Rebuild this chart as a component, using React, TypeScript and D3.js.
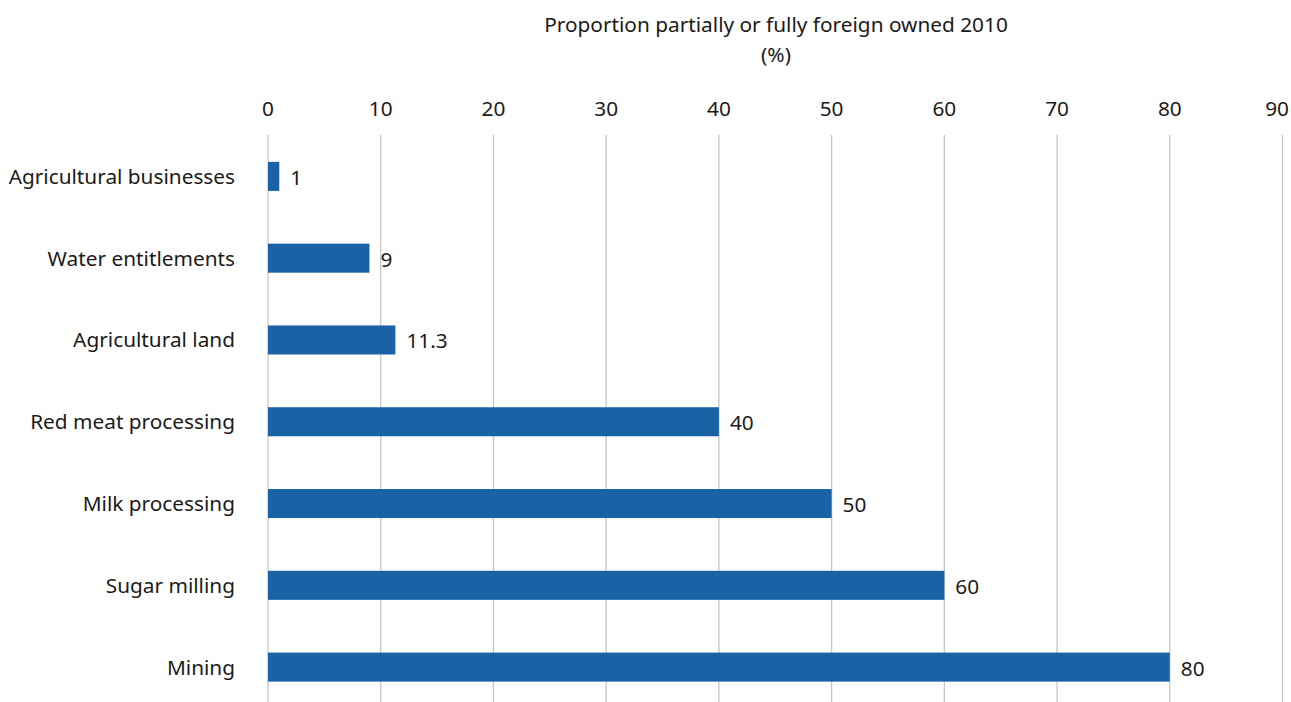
import React from "react";
import * as d3 from "d3";

const categories = [
  "Agricultural businesses",
  "Water entitlements",
  "Agricultural land",
  "Red meat processing",
  "Milk processing",
  "Sugar milling",
  "Mining",
];
const values = [1, 9, 11.3, 40, 50, 60, 80];
const valueLabels = ["1", "9", "11.3", "40", "50", "60", "80"];
const ticks = [0, 10, 20, 30, 40, 50, 60, 70, 80, 90];
const titleLines = ["Proportion partially or fully foreign owned 2010", "(%)"];

export default function App() {
  const W = 1291, H = 702;
  const x = d3.scaleLinear().domain([0, 90]).range([268, 1282.5]);
  const y = d3.scaleBand().domain(categories).range([135.5, 708]).paddingInner(0.645).paddingOuter(0.3225);
  const font = "'Noto Sans', sans-serif";
  const fs = 20.8;
  return (
    <svg width={W} height={H} style={{ position: "absolute", left: 0, top: 0, background: "#fff" }} fontFamily={font}>
      {ticks.map((t, i) => {
        const last = i === ticks.length - 1;
        return (
          <g key={t}>
            <line x1={x(t)} x2={x(t)} y1={135} y2={H} stroke="#c6c6c6" strokeWidth={1.3} />
            <text x={last ? 1289 : x(t)} y={116} textAnchor={last ? "end" : "middle"} fontSize={fs} fill="#1a1a1a">{t}</text>
          </g>
        );
      })}
      {titleLines.map((l, i) => (
        <text key={i} x={776} y={32 + i * 30} textAnchor="middle" fontSize={fs} fill="#1a1a1a">{l}</text>
      ))}
      {categories.map((c, i) => (
        <g key={c}>
          <rect x={x(0)} y={y(c)!} width={x(values[i]) - x(0)} height={y.bandwidth()} fill="#1862a5" />
          <text x={235} y={y(c)! + y.bandwidth() / 2 + 7.5} textAnchor="end" fontSize={fs} fill="#1a1a1a">{c}</text>
          <text x={x(values[i]) + 11} y={y(c)! + y.bandwidth() / 2 + 8.5} fontSize={fs} fill="#1a1a1a">{valueLabels[i]}</text>
        </g>
      ))}
    </svg>
  );
}
